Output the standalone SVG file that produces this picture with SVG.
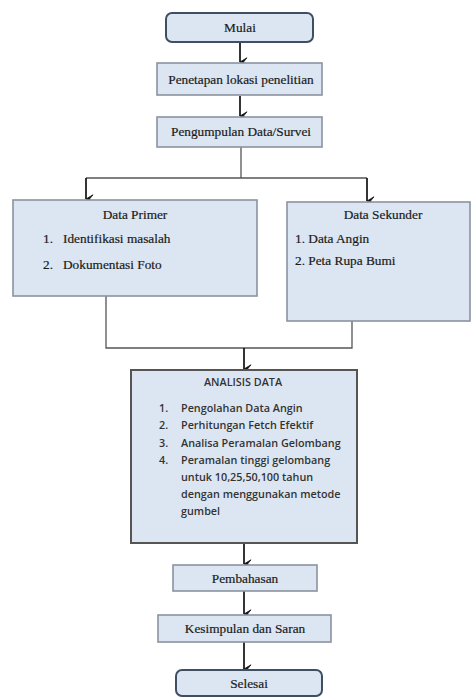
<svg xmlns="http://www.w3.org/2000/svg" width="471" height="697" viewBox="0 0 471 697">
<style>
.box{fill:#dce6f2;stroke:#8a939e;stroke-width:1.6}
.term{fill:#dce6f2;stroke:#3f4e63;stroke-width:2}
.t{font-family:"Liberation Serif","Times New Roman",serif;font-size:13.3px;fill:#1a1a1a;stroke:#1a1a1a;stroke-width:0.2}
.s{font-family:"Open Sans",sans-serif;font-size:10.8px;font-weight:600;fill:#333}
.ln{fill:none;stroke:#555;stroke-width:1.3}
.ar{fill:none;stroke:#111;stroke-width:1.7}
</style>
<defs>
<marker id="ah" viewBox="0 0 10 10" refX="5" refY="9.5" markerWidth="10" markerHeight="10" markerUnits="userSpaceOnUse" orient="auto-start-reverse">
<path d="M0.8,2.5 L5,9.5 L9.2,2.5 L5,6 Z" fill="#111" stroke="#111" stroke-width="0.8" stroke-linejoin="round"/>
</marker>
</defs>
<rect width="471" height="697" fill="#fff"/>
<g id="connectors">
<line class="ar" x1="240" y1="43" x2="240" y2="62" marker-end="url(#ah)"/>
<line class="ar" x1="240" y1="96" x2="240" y2="116" marker-end="url(#ah)"/>
<polyline class="ln" points="241,147 241,178"/>
<polyline class="ln" points="86,178 367,178"/>
<line class="ar" x1="86" y1="178" x2="86" y2="199" marker-end="url(#ah)"/>
<line class="ar" x1="367" y1="178" x2="367" y2="201" marker-end="url(#ah)"/>
<polyline class="ln" points="106,296 106,348 352,348 352,321"/>
<line class="ar" x1="244" y1="348" x2="244" y2="369" marker-end="url(#ah)"/>
<line class="ar" x1="244" y1="543" x2="244" y2="564" marker-end="url(#ah)"/>
<line class="ar" x1="244" y1="591" x2="244" y2="614" marker-end="url(#ah)"/>
<line class="ar" x1="244" y1="642" x2="244" y2="669" marker-end="url(#ah)"/>
</g>
<g id="mulai">
<rect class="term" x="166" y="13" width="147" height="29" rx="6"/>
<text class="t" x="240" y="32" text-anchor="middle">Mulai</text>
</g>
<g id="penetapan">
<rect class="box" x="157" y="63" width="165" height="32"/>
<text class="t" x="241" y="84" text-anchor="middle">Penetapan lokasi penelitian</text>
</g>
<g id="pengumpulan">
<rect class="box" x="157" y="117" width="165" height="30"/>
<text class="t" x="241" y="136" text-anchor="middle">Pengumpulan Data/Survei</text>
</g>
<g id="primer">
<rect class="box" x="13" y="200" width="244" height="96"/>
<text class="t" x="135" y="219" text-anchor="middle">Data Primer</text>
<text class="t" x="43" y="243">1.</text><text class="t" x="63" y="243">Identifikasi masalah</text>
<text class="t" x="43" y="269">2.</text><text class="t" x="63" y="269">Dokumentasi Foto</text>
</g>
<g id="sekunder">
<rect class="box" x="287" y="202" width="183" height="119"/>
<text class="t" x="383" y="219" text-anchor="middle">Data Sekunder</text>
<text class="t" x="295" y="243">1. Data Angin</text>
<text class="t" x="295" y="265">2. Peta Rupa Bumi</text>
</g>
<g id="analisis">
<rect class="box" x="131" y="370" width="226" height="173" style="stroke:#555;stroke-width:2"/>
<text class="s" x="243" y="386" text-anchor="middle">ANALISIS DATA</text>
<text class="s" x="159" y="412">1.</text><text class="s" x="181" y="412">Pengolahan Data Angin</text>
<text class="s" x="159" y="429">2.</text><text class="s" x="181" y="429">Perhitungan Fetch Efektif</text>
<text class="s" x="159" y="447">3.</text><text class="s" x="181" y="447">Analisa Peramalan Gelombang</text>
<text class="s" x="159" y="464">4.</text><text class="s" x="181" y="464">Peramalan tinggi gelombang</text>
<text class="s" x="181" y="481">untuk 10,25,50,100 tahun</text>
<text class="s" x="181" y="498">dengan menggunakan metode</text>
<text class="s" x="181" y="515">gumbel</text>
</g>
<g id="pembahasan">
<rect class="box" x="173" y="565" width="144" height="26"/>
<text class="t" x="245" y="583" text-anchor="middle">Pembahasan</text>
</g>
<g id="kesimpulan">
<rect class="box" x="158" y="615" width="173" height="27"/>
<text class="t" x="245" y="633" text-anchor="middle">Kesimpulan  dan Saran</text>
</g>
<g id="selesai">
<rect class="term" x="176" y="670" width="146" height="26" rx="6"/>
<text class="t" x="249" y="688" text-anchor="middle">Selesai</text>
</g>
</svg>
